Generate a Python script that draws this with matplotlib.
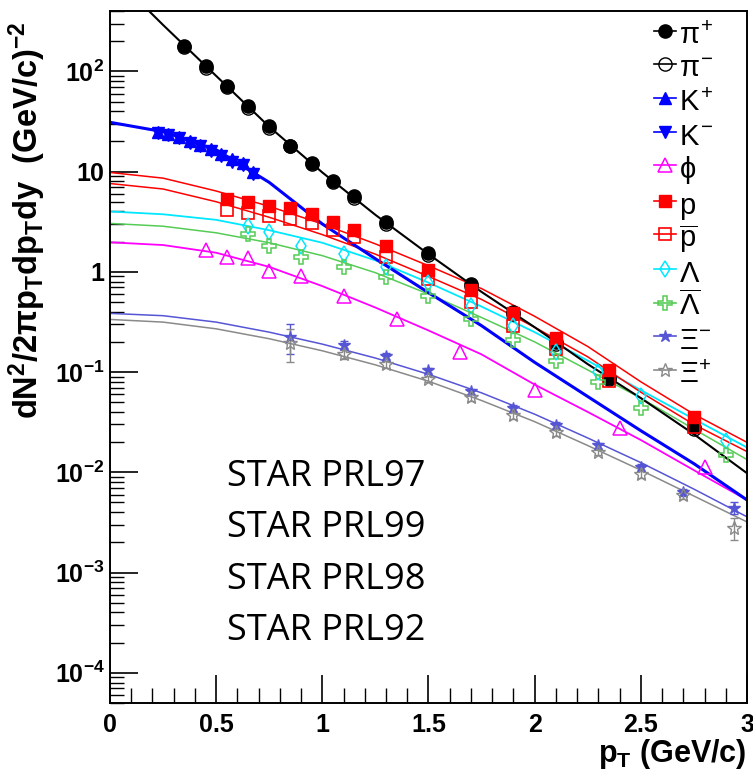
import math

import matplotlib
matplotlib.use("Agg")
import matplotlib.pyplot as plt
from matplotlib.lines import Line2D
from matplotlib.ticker import FixedLocator, FuncFormatter, NullFormatter

plt.rcParams["font.family"] = ["Liberation Sans", "DejaVu Sans"]
plt.rcParams["mathtext.fontset"] = "custom"
plt.rcParams["mathtext.rm"] = "Liberation Sans"
plt.rcParams["mathtext.it"] = "Liberation Sans"
plt.rcParams["mathtext.bf"] = "Liberation Sans:bold"

# measured points
pi_pt = [0.35, 0.45, 0.55, 0.65, 0.75, 0.85, 0.95, 1.05, 1.15, 1.3, 1.5, 1.7, 1.9, 2.1, 2.35, 2.75]
pip_y = [181, 112, 71, 45, 28.2, 18.2, 12.1, 8.0, 5.65, 3.11, 1.53, 0.75, 0.40, 0.20, 0.088, 0.0286]
pim_y = [176, 109, 69, 43.5, 27.5, 17.8, 11.8, 7.8, 5.5, 3.0, 1.48, 0.72, 0.38, 0.19, 0.085, 0.027]

k_pt = [0.225, 0.275, 0.325, 0.375, 0.425, 0.475, 0.525, 0.575, 0.625, 0.675]
kp_y = [24.6, 23.5, 21.9, 20.0, 18.3, 16.7, 14.9, 13.2, 12.1, 10.0]
km_y = [24.0, 23.0, 21.5, 19.5, 17.8, 16.0, 14.3, 12.6, 11.5, 9.5]

phi_pt = [0.45, 0.55, 0.65, 0.75, 0.9, 1.1, 1.35, 1.65, 2.0, 2.4, 2.8]
phi_y = [1.66, 1.42, 1.36, 1.03, 0.9, 0.57, 0.335, 0.157, 0.0668, 0.0275, 0.0114]

p_pt = [0.55, 0.65, 0.75, 0.85, 0.95, 1.05, 1.15, 1.3, 1.5, 1.7, 1.9, 2.1, 2.35, 2.75]
p_y = [5.28, 5.0, 4.5, 4.3, 3.8, 3.16, 2.6, 1.79, 1.05, 0.66, 0.39, 0.22, 0.105, 0.0354]
pbar_y = [4.1, 3.9, 3.6, 3.35, 3.05, 2.6, 2.2, 1.4, 0.84, 0.50, 0.29, 0.17, 0.081, 0.028]

lam_pt = [0.65, 0.75, 0.9, 1.1, 1.3, 1.5, 1.7, 1.9, 2.1, 2.3, 2.5, 2.9]
lam_y = [2.84, 2.47, 1.8, 1.5, 1.13, 0.78, 0.46, 0.29, 0.16, 0.101, 0.0575, 0.0204]
lbar_y = [2.36, 1.8, 1.4, 1.11, 0.88, 0.57, 0.34, 0.21, 0.13, 0.079, 0.0437, 0.015]

xi_pt = [0.85, 1.1, 1.3, 1.5, 1.7, 1.9, 2.1, 2.3, 2.5, 2.7, 2.94]
xim_y = [0.226, 0.187, 0.146, 0.105, 0.064, 0.0436, 0.0295, 0.0186, 0.0113, 0.0063, 0.0044]
xim_err = [0.075, 0.015, 0.01, 0.006, 0.004, 0.003, 0.002, 0.0012, 0.0008, 0.0005, 0.0006]
xip_y = [0.197, 0.15, 0.12, 0.085, 0.056, 0.037, 0.025, 0.016, 0.0096, 0.0059, 0.0028]
xip_err = [0.07, 0.015, 0.01, 0.006, 0.004, 0.003, 0.002, 0.0012, 0.0008, 0.0005, 0.0007]

# fit curves
fit_pt = [0, 0.25, 0.5, 0.75, 1.0, 1.25, 1.5, 1.75, 2.0, 2.25, 2.5, 2.75, 3.0]
pi_fit_pt = [0.15, 0.25, 0.5, 0.75, 1.0, 1.25, 1.5, 1.75, 2.0, 2.25, 2.5, 2.75, 3.0]
pi_fit = [470, 290, 90, 28, 9.8, 3.7, 1.5, 0.63, 0.28, 0.12, 0.055, 0.024, 0.0098]
k_fit = [31, 25, 16.5, 7.8, 3.0, 1.35, 0.62, 0.29, 0.125, 0.057, 0.026, 0.0122, 0.0053]
phi_fit = [1.97, 1.85, 1.55, 1.12, 0.72, 0.44, 0.26, 0.15, 0.075, 0.04, 0.021, 0.0105, 0.0053]
p_fit = [9.8, 8.6, 6.4, 4.5, 3.0, 1.9, 1.15, 0.68, 0.36, 0.18, 0.08, 0.038, 0.0199]
pbar_fit = [7.6, 6.7, 5.0, 3.5, 2.35, 1.5, 0.9, 0.53, 0.28, 0.142, 0.063, 0.030, 0.0161]
lam_fit = [4.0, 3.75, 3.3, 2.6, 1.95, 1.3, 0.78, 0.45, 0.25, 0.13, 0.066, 0.034, 0.0177]
lbar_fit = [3.04, 2.85, 2.45, 1.95, 1.45, 0.98, 0.6, 0.35, 0.2, 0.105, 0.055, 0.027, 0.0134]
xim_fit = [0.385, 0.365, 0.315, 0.25, 0.19, 0.138, 0.095, 0.062, 0.038, 0.022, 0.0125, 0.0068, 0.0036]
xip_fit = [0.335, 0.315, 0.27, 0.215, 0.163, 0.118, 0.081, 0.052, 0.032, 0.0185, 0.0105, 0.0058, 0.0032]

ref_labels = ["STAR PRL97", "STAR PRL99", "STAR PRL98", "STAR PRL92"]

BLACK, BLUE, MAG, RED, CYAN = "black", "#0000ff", "#ff00ff", "#ff0000", "#00e8ff"
GREEN, XIBLUE, GREY = "#55cc55", "#5555d5", "#8a8a8a"

fig = plt.figure(figsize=(7.53, 7.79), dpi=100)
ax = fig.add_axes([0.1461, 0.0976, 0.992 - 0.1461, 0.9859 - 0.0976])
ax.set_yscale("log")
ax.set_xlim(0, 3)
ax.set_ylim(5e-5, 400)

# curves
ax.plot(fit_pt, xip_fit, color=GREY, lw=1.1)
ax.plot(fit_pt, xim_fit, color=XIBLUE, lw=1.1)
ax.plot(fit_pt, lbar_fit, color=GREEN, lw=1.1)
ax.plot(fit_pt, lam_fit, color=CYAN, lw=1.3)
ax.plot(fit_pt, phi_fit, color=MAG, lw=1.3)
ax.plot(fit_pt, pbar_fit, color=RED, lw=1.1)
ax.plot(fit_pt, p_fit, color=RED, lw=1.1)
ax.plot(fit_pt, k_fit, color=BLUE, lw=2.2)
ax.plot(pi_fit_pt, pi_fit, color=BLACK, lw=1.5)

# points
series = [
    (pi_pt, pip_y, None, dict(marker="o", color=BLACK, mfc=BLACK, ms=9.5), r"$\pi^{+}$"),
    (pi_pt, pim_y, None, dict(marker="o", color=BLACK, mfc="none", ms=9.5, mew=1.0), r"$\pi^{-}$"),
    (k_pt, kp_y, None, dict(marker="^", color=BLUE, mfc=BLUE, ms=8.5), r"$K^{+}$"),
    (k_pt, km_y, None, dict(marker="v", color=BLUE, mfc=BLUE, ms=8.5), r"$K^{-}$"),
    (phi_pt, phi_y, None, dict(marker="^", color=MAG, mfc="none", ms=10, mew=1.1), r"$\phi$"),
    (p_pt, p_y, None, dict(marker="s", color=RED, mfc=RED, ms=9), "p"),
    (p_pt, pbar_y, None, dict(marker="s", color=RED, mfc="none", ms=9, mew=1.2), r"$\overline{p}$"),
    (lam_pt, lam_y, None, dict(marker="d", color=CYAN, mfc="none", ms=8, mew=1.1), r"$\Lambda$"),
    (lam_pt, lbar_y, None, dict(marker="P", color=GREEN, mfc="none", ms=10, mew=1.1), r"$\overline{\Lambda}$"),
    (xi_pt, xim_y, xim_err, dict(marker="*", color=XIBLUE, mfc=XIBLUE, ms=9), r"$\Xi^{-}$"),
    (xi_pt, xip_y, xip_err, dict(marker="*", color=GREY, mfc="none", ms=10, mew=1.0), r"$\Xi^{+}$"),
]

handles = []
for x, y, err, style, label in series:
    ax.errorbar(x, y, yerr=err, linestyle="none", elinewidth=1.0, capsize=3,
                ecolor=style["color"], zorder=3, **style)
    handles.append(Line2D([], [], linestyle="-", lw=1.2, label=label, **style))

ax.legend(handles=handles, loc="upper left", bbox_to_anchor=(0.854, 0.99),
          frameon=False, fontsize=21, handlelength=0.75, handleheight=1.32,
          handletextpad=0.12, labelspacing=0.05, borderpad=0.0, borderaxespad=0.0)

for i, txt in enumerate(ref_labels):
    ax.text(0.1837, 0.3136 - 0.0742 * i, txt, transform=ax.transAxes, fontsize=26,
            family="Open Sans", va="baseline", ha="left")

# ticks in ROOT style
ax.xaxis.set_major_locator(FixedLocator([0, 0.5, 1, 1.5, 2, 2.5, 3]))
ax.xaxis.set_minor_locator(FixedLocator([i / 10 for i in range(31)]))
ax.xaxis.set_major_formatter(FuncFormatter(lambda v, _: "%g" % v))
ax.tick_params(axis="both", which="both", direction="in", top=False, right=False)
ax.tick_params(axis="x", which="major", length=20, width=1.2, pad=7)
ax.tick_params(axis="x", which="minor", length=11, width=1.0)
ax.tick_params(axis="y", which="major", length=20, width=1.2, pad=4)
ax.tick_params(axis="y", which="minor", length=10, width=1.0)


def ylab(v, _):
    e = int(round(math.log10(v)))
    if e == 0:
        return "1"
    if e == 1:
        return "10"
    return r"$\mathbf{10^{%d}}$" % e


ax.yaxis.set_major_locator(FixedLocator([10.0 ** e for e in range(-4, 3)]))
ax.yaxis.set_major_formatter(FuncFormatter(ylab))
ax.yaxis.set_minor_formatter(NullFormatter())
for lab in ax.get_xticklabels() + ax.get_yticklabels():
    lab.set_fontweight("bold")
    lab.set_fontsize(18)
for sp in ax.spines.values():
    sp.set_linewidth(1.4)

ax.set_xlabel(r"$\mathbf{p_T}$ (GeV/c)", fontsize=22, fontweight="bold", va="center", ha="right")
ax.xaxis.set_label_coords(1.0, -0.074)
ax.set_ylabel(r"$\mathbf{dN^2/2\pi p_T dp_T dy}$  (GeV/c)$\mathbf{^{-2}}$",
              fontsize=23.5, fontweight="bold")
ax.yaxis.set_label_coords(-0.098, 0.698)

fig.savefig("out.png", dpi=100)
